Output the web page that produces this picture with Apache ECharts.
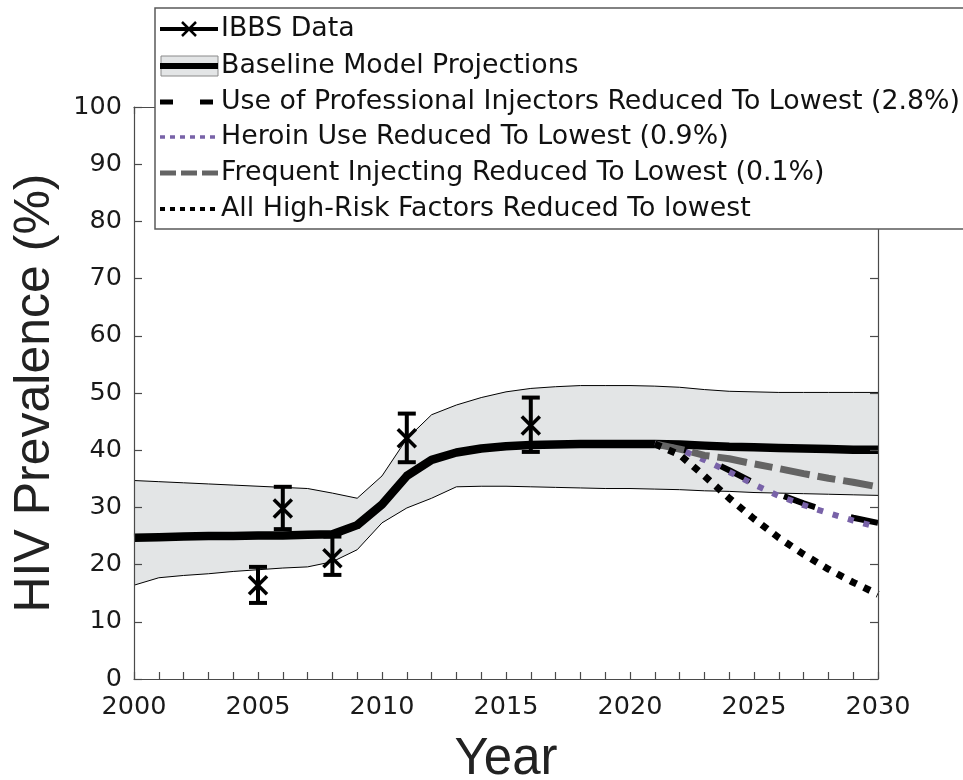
<!DOCTYPE html>
<html>
<head>
<meta charset="utf-8">
<script src="https://cdn.jsdelivr.net/npm/echarts@6/dist/echarts.min.js"></script>
<style>
  html, body { margin: 0; padding: 0; background: #ffffff; }
  #chart { width: 963px; height: 780px; }
</style>
</head>
<body>
<div id="chart"></div>
<script>
// Model years and baseline projection with its uncertainty band (HIV prevalence, %)
const modelYears = [2000, 2001, 2002, 2003, 2004, 2005, 2006, 2007, 2008, 2009, 2010,
  2011, 2012, 2013, 2014, 2015, 2016, 2017, 2018, 2019, 2020,
  2021, 2022, 2023, 2024, 2025, 2026, 2027, 2028, 2029, 2030];
const baseline = [24.7, 24.8, 24.9, 25.0, 25.0, 25.1, 25.1, 25.2, 25.3, 26.9, 30.5,
  35.5, 38.3, 39.6, 40.3, 40.7, 40.9, 41.0, 41.1, 41.1, 41.1,
  41.1, 41.0, 40.8, 40.6, 40.5, 40.4, 40.3, 40.2, 40.1, 40.1];
const upperBound = [34.7, 34.5, 34.3, 34.1, 33.9, 33.7, 33.5, 33.3, 32.5, 31.6, 35.5,
  42.0, 46.2, 47.9, 49.2, 50.2, 50.8, 51.1, 51.3, 51.3, 51.3,
  51.2, 51.0, 50.6, 50.3, 50.2, 50.1, 50.1, 50.1, 50.1, 50.1];
const lowerBound = [16.4, 17.7, 18.1, 18.4, 18.8, 19.1, 19.4, 19.6, 20.5, 22.6, 27.3,
  29.9, 31.6, 33.6, 33.7, 33.7, 33.6, 33.5, 33.4, 33.3, 33.3,
  33.2, 33.1, 32.9, 32.8, 32.6, 32.5, 32.4, 32.3, 32.2, 32.1];

// IBBS survey estimates with their confidence intervals
const ibbsYears = [2005, 2006, 2008, 2011, 2016];
const ibbsValues = [16.4, 29.8, 21.1, 42.1, 44.3];
const ibbsLow = [13.3, 26.2, 18.2, 37.9, 39.7];
const ibbsHigh = [19.6, 33.6, 24.9, 46.4, 49.2];

// Intervention scenarios, starting from the baseline in 2021
const scenarioYears = [2021, 2022, 2023, 2024, 2025, 2026, 2027, 2028, 2029, 2030];
const professionalInjectors = [41.1, 40.3, 38.6, 36.5, 34.3, 32.3, 30.7, 29.3, 28.2, 27.3];
const heroinUse = [41.1, 40.2, 38.3, 36.2, 34.0, 32.0, 30.4, 29.0, 27.7, 26.5];
const frequentInjecting = [41.1, 40.2, 39.1, 38.5, 37.6, 36.8, 35.9, 35.1, 34.4, 33.6];
const allHighRisk = [41.1, 39.2, 35.5, 31.6, 28.0, 24.7, 21.8, 19.2, 16.9, 14.8];

// Legend entries
const legendLabels = [
  'IBBS Data',
  'Baseline Model Projections',
  'Use of Professional Injectors Reduced To Lowest (2.8%)',
  'Heroin Use Reduced To Lowest (0.9%)',
  'Frequent Injecting Reduced To Lowest (0.1%)',
  'All High-Risk Factors Reduced To lowest'
];

const TITLE_FONT = 'Liberation Sans';
const SMALL_FONT = 'DejaVu Sans';
const AXIS_COLOR = '#4a4a4a';
const BAND_FILL = '#e3e5e6';
const PURPLE = '#7862a8';
const GREY = '#646464';

const pairs = (xs, ys) => xs.map((x, i) => [x, ys[i]]);

const chart = echarts.init(document.getElementById('chart'), null, { renderer: 'canvas' });

// Legend box drawn with graphic elements
const legendX = 155, legendTop = 8, legendBottom = 229;
const rowY = [29, 66, 102, 137, 173, 209];
const iconL = 160, iconR = 218, textX = 221;
const legendGraphics = [{
  type: 'rect', z: 100,
  shape: { x: legendX, y: legendTop, width: 830, height: legendBottom - legendTop },
  style: { fill: '#ffffff', stroke: '#5a5a5a', lineWidth: 1.5 }
}];
const line = (y, style) => ({
  type: 'line', z: 101,
  shape: { x1: iconL, y1: y, x2: iconR, y2: y },
  style: Object.assign({ stroke: '#000', lineCap: 'butt' }, style)
});
// IBBS: line with a cross
legendGraphics.push(line(rowY[0], { lineWidth: 4 }));
legendGraphics.push({ type: 'line', z: 102, shape: { x1: 182, y1: rowY[0] - 7, x2: 196, y2: rowY[0] + 7 }, style: { stroke: '#000', lineWidth: 2.5 } });
legendGraphics.push({ type: 'line', z: 102, shape: { x1: 182, y1: rowY[0] + 7, x2: 196, y2: rowY[0] - 7 }, style: { stroke: '#000', lineWidth: 2.5 } });
// Baseline: band patch with thick line
legendGraphics.push({ type: 'rect', z: 101, shape: { x: iconL + 1, y: rowY[1] - 10, width: iconR - iconL - 1, height: 20 }, style: { fill: BAND_FILL, stroke: '#8a8a8a', lineWidth: 1 } });
legendGraphics.push(line(rowY[1], { lineWidth: 6 }));
// Scenario samples
legendGraphics.push(line(rowY[2], { lineWidth: 5, lineDash: [13, 27] }));
legendGraphics.push(line(rowY[3], { lineWidth: 3.5, lineDash: [5, 5], stroke: PURPLE }));
legendGraphics.push(line(rowY[4], { lineWidth: 5, lineDash: [16, 5], stroke: GREY }));
legendGraphics.push(line(rowY[5], { lineWidth: 4, lineDash: [5, 5] }));
legendLabels.forEach((t, i) => {
  legendGraphics.push({
    type: 'text', z: 102, x: textX, y: rowY[i],
    style: { text: t, fill: '#111', font: '26.8px "' + SMALL_FONT + '"', verticalAlign: 'middle', align: 'left' }
  });
});

const option = {
  animation: false,
  backgroundColor: '#ffffff',
  textStyle: { fontFamily: SMALL_FONT },
  grid: { left: 134, right: 85, top: 107, bottom: 101, containLabel: false, outerBoundsMode: 'none' },
  xAxis: [{
    type: 'value', position: 'bottom', min: 2000, max: 2030, interval: 1, z: 3,
    axisLine: { show: true, onZero: false, lineStyle: { color: AXIS_COLOR, width: 1.2 } },
    axisTick: { show: true, inside: true, length: 7, lineStyle: { color: AXIS_COLOR, width: 1.2 } },
    axisLabel: {
      show: true, margin: 15, fontSize: 25.5, color: '#1a1a1a', fontFamily: SMALL_FONT,
      formatter: v => (v % 5 === 0 ? String(v) : '')
    },
    splitLine: { show: false },
    name: 'Year', nameLocation: 'middle', nameGap: 55,
    nameTextStyle: { fontSize: 51, color: '#222', fontFamily: TITLE_FONT }
  }, {
    type: 'value', position: 'top', min: 2000, max: 2030, interval: 1, z: 3,
    axisLine: { show: true, onZero: false, lineStyle: { color: AXIS_COLOR, width: 1.2 } },
    axisTick: { show: true, inside: true, length: 7, lineStyle: { color: AXIS_COLOR, width: 1.2 } },
    axisLabel: { show: false },
    splitLine: { show: false }
  }],
  yAxis: [{
    type: 'value', position: 'left', min: 0, max: 100, interval: 10, z: 3,
    axisLine: { show: true, onZero: false, lineStyle: { color: AXIS_COLOR, width: 1.2 } },
    axisTick: { show: true, inside: true, length: 8, lineStyle: { color: AXIS_COLOR, width: 1.2 } },
    axisLabel: { show: true, margin: 12, fontSize: 25.5, color: '#1a1a1a', fontFamily: SMALL_FONT },
    splitLine: { show: false },
    name: 'HIV Prevalence (%)', nameLocation: 'middle', nameGap: 74,
    nameTextStyle: { fontSize: 50, color: '#222', fontFamily: TITLE_FONT }
  }, {
    type: 'value', position: 'right', min: 0, max: 100, interval: 10, z: 3,
    axisLine: { show: true, onZero: false, lineStyle: { color: AXIS_COLOR, width: 1.2 } },
    axisTick: { show: true, inside: true, length: 8, lineStyle: { color: AXIS_COLOR, width: 1.2 } },
    axisLabel: { show: false },
    splitLine: { show: false }
  }],
  graphic: legendGraphics,
  series: [
    {
      // uncertainty band polygon
      type: 'custom', name: 'band', z: 1, silent: true,
      data: [[2015, 40]],
      renderItem: (params, api) => {
        const pts = [];
        modelYears.forEach((yr, i) => pts.push(api.coord([yr, upperBound[i]])));
        for (let i = modelYears.length - 1; i >= 0; i--) pts.push(api.coord([modelYears[i], lowerBound[i]]));
        return { type: 'polygon', shape: { points: pts }, style: { fill: BAND_FILL } };
      }
    },
    {
      type: 'line', name: 'upper', z: 2, symbol: 'none', silent: true,
      data: pairs(modelYears, upperBound),
      lineStyle: { color: '#000', width: 1 }
    },
    {
      type: 'line', name: 'lower', z: 2, symbol: 'none', silent: true,
      data: pairs(modelYears, lowerBound),
      lineStyle: { color: '#000', width: 1 }
    },
    {
      type: 'line', name: legendLabels[1], z: 2, symbol: 'none',
      data: pairs(modelYears, baseline),
      lineStyle: { color: '#000', width: 8.5, join: 'round' }
    },
    {
      type: 'line', name: legendLabels[2], z: 2, symbol: 'none',
      data: pairs(scenarioYears, professionalInjectors),
      lineStyle: { color: '#000', width: 6, type: [33, 37], cap: 'butt' }
    },
    {
      type: 'line', name: legendLabels[3], z: 2, symbol: 'none',
      data: pairs(scenarioYears, heroinUse),
      lineStyle: { color: PURPLE, width: 6, type: [6, 10], cap: 'butt' }
    },
    {
      type: 'line', name: legendLabels[4], z: 2, symbol: 'none',
      data: pairs(scenarioYears, frequentInjecting),
      lineStyle: { color: GREY, width: 7, type: [30, 8, 18, 8], cap: 'butt' }
    },
    {
      type: 'line', name: legendLabels[5], z: 2, symbol: 'none',
      data: pairs(scenarioYears, allHighRisk),
      lineStyle: { color: '#000', width: 7, type: [7, 8], cap: 'butt' }
    },
    {
      // survey points with error bars and cross markers
      type: 'custom', name: legendLabels[0], z: 4, clip: false,
      data: ibbsYears.map((yr, i) => [yr, ibbsValues[i], ibbsLow[i], ibbsHigh[i]]),
      renderItem: (params, api) => {
        const c = api.coord([api.value(0), api.value(1)]);
        const lo = api.coord([api.value(0), api.value(2)]);
        const hi = api.coord([api.value(0), api.value(3)]);
        const stroke = { stroke: '#000', lineWidth: 4 };
        const cap = 9, m = 9;
        return {
          type: 'group',
          children: [
            { type: 'line', shape: { x1: lo[0], y1: lo[1], x2: hi[0], y2: hi[1] }, style: stroke },
            { type: 'line', shape: { x1: lo[0] - cap, y1: lo[1], x2: lo[0] + cap, y2: lo[1] }, style: stroke },
            { type: 'line', shape: { x1: hi[0] - cap, y1: hi[1], x2: hi[0] + cap, y2: hi[1] }, style: stroke },
            { type: 'line', shape: { x1: c[0] - m, y1: c[1] - m, x2: c[0] + m, y2: c[1] + m }, style: { stroke: '#000', lineWidth: 3.5 } },
            { type: 'line', shape: { x1: c[0] - m, y1: c[1] + m, x2: c[0] + m, y2: c[1] - m }, style: { stroke: '#000', lineWidth: 3.5 } }
          ]
        };
      }
    }
  ]
};

chart.setOption(option);
</script>
</body>
</html>
